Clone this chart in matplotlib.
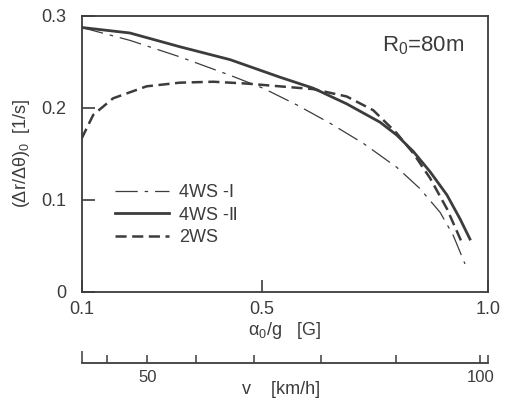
import numpy as np
import matplotlib
matplotlib.use("Agg")
import matplotlib.pyplot as plt

# a/g [G] vs (dr/dtheta)0 [1/s], R0 = 80 m
ag_4ws1 = [0.100, 0.207, 0.318, 0.429, 0.502, 0.576, 0.650, 0.724, 0.798, 0.849,
           0.894, 0.923, 0.949]
yaw_4ws1 = [0.287, 0.273, 0.255, 0.235, 0.221, 0.203, 0.183, 0.161, 0.135, 0.112,
            0.086, 0.061, 0.030]

ag_4ws2 = [0.100, 0.207, 0.318, 0.429, 0.539, 0.613, 0.687, 0.761, 0.798, 0.835,
           0.872, 0.909, 0.938, 0.960]
yaw_4ws2 = [0.287, 0.281, 0.266, 0.252, 0.233, 0.221, 0.204, 0.184, 0.170, 0.152,
            0.130, 0.105, 0.079, 0.057]

ag_2ws = [0.100, 0.126, 0.170, 0.244, 0.318, 0.392, 0.466, 0.539, 0.613, 0.687,
          0.746, 0.798, 0.835, 0.872, 0.909, 0.945]
yaw_2ws = [0.166, 0.192, 0.210, 0.223, 0.227, 0.228, 0.226, 0.223, 0.220, 0.212,
           0.197, 0.172, 0.150, 0.123, 0.090, 0.050]

labels = ["4WS -Ⅰ", "4WS -Ⅱ", "2WS"]
v_ticks = [40, 50, 60, 70, 80, 90, 100]
v_labels = ["", "50", "", "", "", "", "100"]

R0 = 80.0
G = 9.81


def ag_to_v(a):
    return np.sqrt(np.clip(np.asarray(a, dtype=float), 0, None) * G * R0) * 3.6


def v_to_ag(v):
    return (np.asarray(v, dtype=float) / 3.6) ** 2 / (G * R0)


plt.rcParams['font.family'] = ['Liberation Sans', 'DejaVu Sans']
plt.rcParams['mathtext.fontset'] = 'custom'
plt.rcParams['mathtext.rm'] = 'Liberation Sans'
plt.rcParams['mathtext.it'] = 'Liberation Sans'
plt.rcParams['mathtext.default'] = 'regular'
plt.rcParams['lines.scale_dashes'] = False

ink = '#3c3c3c'
fig = plt.figure(figsize=(5.08, 3.99), dpi=100)
ax = fig.add_axes([81.5 / 508, 1 - 291.5 / 399, 406.5 / 508, 276 / 399])

ax.plot(ag_4ws1, yaw_4ws1, color=ink, lw=0.9, dashes=(16, 5, 2.5, 5), label=labels[0])
ax.plot(ag_4ws2, yaw_4ws2, color=ink, lw=2.0, label=labels[1])
ax.plot(ag_2ws, yaw_2ws, color=ink, lw=1.8, dashes=(8, 4), label=labels[2])

ax.set_xlim(0.1, 1.0)
ax.set_ylim(0, 0.3)
ax.set_xticks([0.1, 0.5, 1.0])
ax.set_xticklabels(["0.1", "0.5", "1.0"])
ax.set_yticks([0, 0.1, 0.2, 0.3])
ax.set_yticklabels(["0", "0.1", "0.2", "0.3"])
ax.tick_params(direction='in', length=9, width=1.2, color=ink, labelcolor=ink,
               labelsize=13, pad=7)
ax.tick_params(axis='y', pad=11)
for s in ax.spines.values():
    s.set_linewidth(1.3)
    s.set_color(ink)

ax.set_ylabel(r'$(\Delta r/\Delta \theta)_0$  [1/s]', fontsize=13, color=ink, labelpad=7)
ax.set_xlabel(r'$\alpha_0/g$   [G]', fontsize=13, color=ink, labelpad=1)
ax.text(0.74, 0.87, r'R$_0$=80m', transform=ax.transAxes, fontsize=16, color=ink)

ax.legend(loc='center left', bbox_to_anchor=(0.082, 0.277), frameon=False,
          fontsize=13, handlelength=3.0, handletextpad=0.55, labelspacing=0.3,
          borderpad=0, borderaxespad=0, labelcolor=ink)

sec = ax.secondary_xaxis(-0.26, functions=(ag_to_v, v_to_ag))
sec.set_xticks(v_ticks + [float(ag_to_v(1.0))])
sec.set_xticklabels(v_labels + [""])
sec.set_xticks([float(ag_to_v(0.1))], minor=True)
sec.tick_params(which='major', direction='in', length=6, width=1.1, color=ink,
                labelcolor=ink, labelsize=12, pad=5)
sec.tick_params(which='minor', direction='in', length=9, width=1.1, color=ink)
sec.spines['bottom'].set_linewidth(1.3)
sec.spines['bottom'].set_color(ink)

fig.text(281 / 508, 1 - 390 / 399, 'v    [km/h]', fontsize=13, color=ink,
         ha='center', va='center')

fig.savefig('out.png', dpi=100)
